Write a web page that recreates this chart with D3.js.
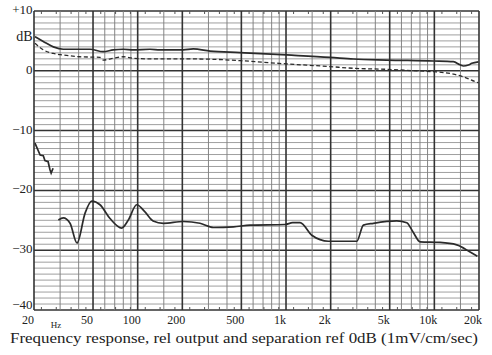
<!DOCTYPE html>
<html>
<head>
<meta charset="utf-8">
<script src="https://cdn.jsdelivr.net/npm/d3@7/dist/d3.min.js"></script>
<style>
  html, body { margin: 0; padding: 0; background: #fff; }
  svg { display: block; }
  text { font-family: "Liberation Serif", "DejaVu Serif", serif; fill: #222; }
</style>
</head>
<body>
<svg id="chart" width="492" height="355"></svg>
<script>
// Frequency response (two channels) and channel separation, in dB vs Hz
const respSolid = [
  [20.3, 5.7], [23.1, 4.9], [27, 4.0], [31.5, 3.6], [47.7, 3.6], [58.6, 3.2],
  [68.5, 3.5], [80, 3.6], [93.5, 3.5], [121, 3.6], [141.5, 3.5], [203, 3.5],
  [237, 3.65], [307.6, 3.3], [490, 3.05], [1011, 2.65], [1982, 2.25],
  [2845, 1.97], [4776, 1.8], [9853, 1.64], [13430, 1.52], [14910, 1.0],
  [15700, 0.8], [16970, 0.97], [17890, 1.25], [19820, 1.5]
];
const respDashed = [
  [20.3, 4.6], [23.1, 3.5], [27, 2.9], [31.5, 2.65], [40.8, 2.35], [55.7, 2.25],
  [58.6, 1.8], [68.5, 2.1], [80, 2.35], [93.5, 2.1], [121, 2.0], [203, 2.0],
  [341, 1.9], [490, 1.7], [1011, 1.15], [1982, 0.7], [2845, 0.42], [4776, 0.25],
  [7226, 0.02], [9853, -0.15], [13430, -0.55], [15700, -1.0], [18830, -1.8],
  [19820, -2.0]
];
const sepLow = [
  [20.3, -12.1], [22.0, -14.1], [23.1, -14.2], [23.7, -15.0], [24.9, -15.2],
  [25.6, -16.5], [26.1, -17.1], [26.9, -16.3]
];
const sepMain = [
  [29.2, -24.95], [31.5, -24.6], [35.0, -25.5], [39.0, -28.8], [44.2, -23.8],
  [49.0, -21.8], [55.7, -22.4], [65.1, -24.7], [78.0, -26.3], [86.5, -24.95],
  [98.5, -22.4], [112, -23.6], [127, -25.1], [149, -25.5], [203, -25.2],
  [263, -25.5], [324, -26.2], [442, -26.1], [573, -25.8], [985, -25.7],
  [1109, -25.4], [1244, -25.4], [1492, -27.5], [1930, -28.5], [3000, -28.5],
  [3324, -25.8], [3882, -25.5], [5580, -25.1], [6517, -25.4], [7200, -27.0],
  [8018, -28.6], [10940, -28.7], [14160, -29.1], [17420, -30.3], [19500, -31.0]
];

// Grid and tick definitions
const gridFreqs = [20, 30, 40, 50, 60, 70, 80, 90, 100, 150, 200, 300, 400, 500,
  600, 700, 800, 900, 1000, 1500, 2000, 3000, 4000, 5000, 6000, 7000, 8000, 9000,
  10000, 15000, 20000];
const majorFreqs = [20, 50, 100, 200, 500, 1000, 2000, 5000, 10000, 20000];
const freqTicks = [20, 50, 100, 200, 500, 1000, 2000, 5000, 10000, 20000];
const freqTickLabels = ["20", "50", "100", "200", "500", "1k", "2k", "5k", "10k", "20k"];
const dbTicks = [10, 0, -10, -20, -30, -40];
const dbTickLabels = ["+10", "0", "\u221210", "\u221220", "\u221230", "\u221240"];
const sweepDivisions = 30;

const svg = d3.select("#chart");
const x = d3.scaleLog().domain([20, 20000]).range([34, 479]);
const y = d3.scaleLinear().domain([-40, 10]).range([310, 11]);
const sweep = d3.scaleLinear().domain([0, sweepDivisions]).range(x.range());

const grid = svg.append("g");

// horizontal lines every 1 dB, heavier every 10 dB
grid.selectAll("line.h")
  .data(d3.range(-40, 11))
  .join("line")
  .attr("x1", x(20)).attr("x2", x(20000))
  .attr("y1", d => y(d)).attr("y2", d => y(d))
  .attr("stroke", d => d % 10 === 0 ? "#333" : "#8e8e8e")
  .attr("stroke-width", d => d % 10 === 0 ? 1.5 : 0.85);

// vertical frequency lines
grid.selectAll("line.v")
  .data(gridFreqs)
  .join("line")
  .attr("x1", d => x(d)).attr("x2", d => x(d))
  .attr("y1", y(10)).attr("y2", y(-40))
  .attr("stroke", d => majorFreqs.includes(d) ? "#333" : "#7e7e7e")
  .attr("stroke-width", d => majorFreqs.includes(d) ? 1.6 : 0.95);

// evenly spaced sweep marks along top and bottom edges
const marks = d3.range(sweepDivisions).map(i => i + 0.5);
grid.selectAll("line.tt")
  .data(marks)
  .join("line")
  .attr("x1", d => sweep(d)).attr("x2", d => sweep(d))
  .attr("y1", y(10)).attr("y2", y(10) + 3)
  .attr("stroke", "#555").attr("stroke-width", 1);
grid.selectAll("line.tb")
  .data(marks)
  .join("line")
  .attr("x1", d => sweep(d)).attr("x2", d => sweep(d))
  .attr("y1", y(-40) - 3).attr("y2", y(-40))
  .attr("stroke", "#555").attr("stroke-width", 1);

// curves
const line = d3.line()
  .x(d => x(d[0])).y(d => y(d[1]))
  .curve(d3.curveMonotoneX);

const curves = svg.append("g").attr("fill", "none").attr("stroke", "#2b2b2b");
curves.append("path").datum(respSolid).attr("d", line).attr("stroke-width", 1.7);
curves.append("path").datum(respDashed).attr("d", line)
  .attr("stroke-width", 1.3).attr("stroke-dasharray", "4,2.5");
curves.append("path").datum(sepLow).attr("d", d3.line().x(d => x(d[0])).y(d => y(d[1])))
  .attr("stroke-width", 1.7);
curves.append("path").datum(sepMain).attr("d", line).attr("stroke-width", 1.7);

// axis labels; the bottom one sits a little above its line to clear the frequency labels
svg.append("g").selectAll("text")
  .data(dbTicks)
  .join("text")
  .attr("x", 32.5).attr("y", d => y(d) - (d === -40 ? 3.5 : 0))
  .attr("text-anchor", "end").attr("dominant-baseline", "middle")
  .attr("font-size", 13)
  .text((d, i) => dbTickLabels[i]);

svg.append("text")
  .attr("x", 32.5).attr("y", y(5.5))
  .attr("text-anchor", "end").attr("dominant-baseline", "middle")
  .attr("font-size", 14)
  .text("dB");

svg.append("g").selectAll("text")
  .data(freqTicks)
  .join("text")
  .attr("x", d => x(d) - 6).attr("y", 324)
  .attr("text-anchor", "middle")
  .attr("font-size", 12)
  .text((d, i) => freqTickLabels[i]);

svg.append("text")
  .attr("x", 56).attr("y", 328)
  .attr("text-anchor", "middle")
  .attr("font-size", 9)
  .text("Hz");

svg.append("text")
  .attr("x", 10).attr("y", 343)
  .attr("font-size", 15)
  .attr("textLength", 468)
  .attr("lengthAdjust", "spacingAndGlyphs")
  .text("Frequency response, rel output and separation ref 0dB (1mV/cm/sec)");
</script>
</body>
</html>
